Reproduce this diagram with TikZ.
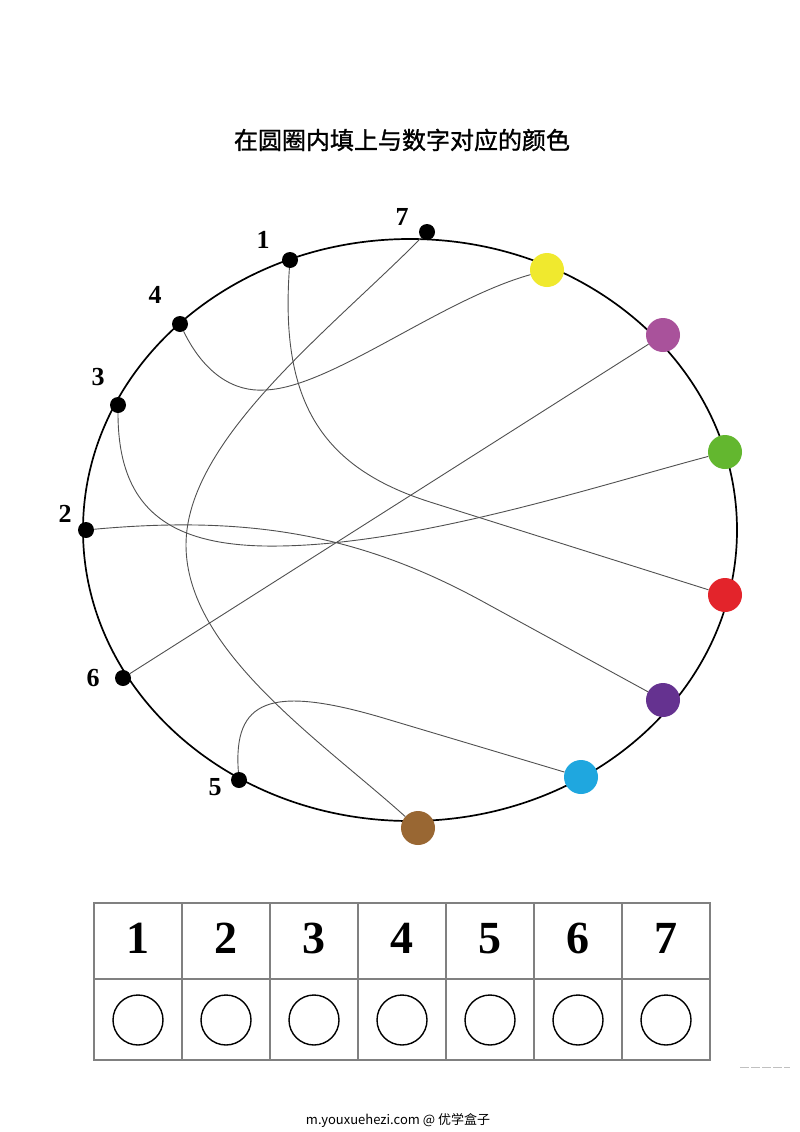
\documentclass[tikz,border=0pt]{standalone}
\usepackage{fontspec}
\setmainfont{Liberation Serif}
\newfontfamily\cjk{Noto Sans CJK SC}
\newfontfamily\cjkhead[FakeBold=1.2]{Noto Sans CJK SC}
\usetikzlibrary{positioning}
\definecolor{dotyellow}{HTML}{F0E92E}
\definecolor{dotpink}{HTML}{A9529B}
\definecolor{dotgreen}{HTML}{63B72F}
\definecolor{dotred}{HTML}{E3242B}
\definecolor{dotpurple}{HTML}{653290}
\definecolor{dotblue}{HTML}{1FA7DF}
\definecolor{dotbrown}{HTML}{996733}
\definecolor{linkgray}{HTML}{505050}
\definecolor{gridgray}{HTML}{808080}

\begin{document}
\begin{tikzpicture}[x=1pt, y=-1pt,
                blackdot/.style={circle, fill=black, inner sep=0pt, minimum size=16pt},
                colordot/.style={circle, fill=#1, inner sep=0pt, minimum size=34pt},
                numtag/.style={font=\fontsize{26}{26}\selectfont\bfseries, inner sep=0pt},
                tabnum/.style={font=\fontsize{46}{46}\selectfont\bfseries, anchor=base, inner sep=0pt},
                answer/.style={circle, draw=black, line width=1.4pt, minimum size=50pt, inner sep=0pt},
                link/.style={draw=linkgray, line width=0.9pt},
                grid/.style={draw=gridgray, line width=1.1pt}]

                \useasboundingbox[fill=white] (0,0) rectangle (800,1132);

                \node (title) at (402,140) {\cjkhead\fontsize{24}{24}\selectfont 在圆圈内填上与数字对应的颜色};

                % the big ring
                \draw[line width=1.7pt] (410,530) ellipse [x radius=327pt, y radius=291pt];

                % numbered dots on the left
                \node[blackdot] (n7) at (427,232) {};
                \node[blackdot] (n1) at (290,260) {};
                \node[blackdot] (n4) at (180,324) {};
                \node[blackdot] (n3) at (118,405) {};
                \node[blackdot] (n2) at (86,530) {};
                \node[blackdot] (n6) at (123,678) {};
                \node[blackdot] (n5) at (239,780) {};

                \node[numtag] (l7) at (402,217) {7};
                \node[numtag] (l1) at (263,240) {1};
                \node[numtag] (l4) at (155,295) {4};
                \node[numtag] (l3) at (98,377) {3};
                \node[numtag] (l2) at (65,514) {2};
                \node[numtag] (l6) at (93,678) {6};
                \node[numtag] (l5) at (215,787) {5};

                % colour dots on the right
                \node[colordot=dotyellow] (cy) at (547,270) {};
                \node[colordot=dotpink]   (cp) at (663,335) {};
                \node[colordot=dotgreen]  (cg) at (725,452) {};
                \node[colordot=dotred]    (cr) at (725,595) {};
                \node[colordot=dotpurple] (cv) at (663,700) {};
                \node[colordot=dotblue]   (cb) at (581,777) {};
                \node[colordot=dotbrown]  (cn) at (418,828) {};

                % tangled lines
                \draw[link] (n7) .. controls (330,330) and (186,440) .. (186,545)
                                 .. controls (186,650) and (320,740) .. (cn);
                \draw[link] (n1) .. controls (280,400) and (320,467) .. (430,502) -- (cr);
                \draw[link] (n4) .. controls (205,375) and (235,392) .. (265,390)
                                 .. controls (330,388) and (440,300) .. (cy);
                \draw[link] (n3) .. controls (118,510) and (170,548) .. (280,546)
                                 .. controls (420,544) and (600,485) .. (cg);
                \draw[link] (n2) .. controls (250,515) and (360,535) .. (480,600) -- (cv);
                \draw[link] (n6) -- (cp);
                \draw[link] (n5) .. controls (233,700) and (270,685) .. (380,717) -- (cb);

                % answer table
                \draw[grid] (94,903) rectangle (710,1060);
                \draw[grid] (94,979) -- (710,979);
                \foreach \k in {1,...,6}
                    \draw[grid] ({94+88*\k},903) -- ({94+88*\k},1060);
                \foreach \k in {1,...,7} {
                    \node[tabnum] (h\k) at ({94+88*\k-44},953) {\k};
                    \node[answer] (a\k) at ({94+88*\k-44},1020) {};
                }

                \draw[gridgray!50, line width=0.8pt, dash pattern=on 9pt off 2pt] (740,1067) -- (790,1067);

                \node (site) at (398,1120) {\cjk\fontsize{13}{13}\selectfont m.youxuehezi.com @ 优学盒子};

            \end{tikzpicture}
\end{document}
